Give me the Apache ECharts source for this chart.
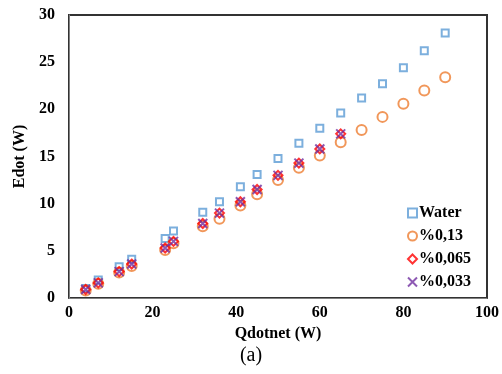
<!DOCTYPE html>
<html><head><meta charset="utf-8">
<script src="https://cdn.jsdelivr.net/npm/echarts@6/dist/echarts.min.js"></script>
<style>html,body{margin:0;padding:0;background:#fff}#c{width:502px;height:374px}</style>
</head><body><div id="c"></div>
<script>
var qdot = [4,7,12,15,23,25,32,36,41,45,50,55,60,65,70,75,80,85,90];
var water = [1.0,1.9,3.3,4.1,6.3,7.1,9.1,10.2,11.8,13.1,14.8,16.4,18.0,19.6,21.2,22.7,24.4,26.2,28.1];
var nf013 = [0.8,1.5,2.7,3.4,5.1,5.8,7.6,8.4,9.8,11.0,12.5,13.8,15.1,16.5,17.8,19.2,20.6,22.0,23.4];
var nf0065 = [0.9,1.6,2.8,3.6,5.3,6.0,7.9,9.0,10.2,11.5,13.0,14.3,15.8,17.4];
var nf0033 = [0.9,1.6,2.8,3.6,5.3,6.0,7.9,9.0,10.2,11.5,13.0,14.3,15.8,17.4];
var xTicks = [0,20,40,60,80,100];
var yTicks = [0,5,10,15,20,25,30];

function pairs(ys){ return ys.map(function(v,i){ return [qdot[i], v]; }); }
var font = '"Liberation Serif","Times New Roman",serif';
var chart = echarts.init(document.getElementById('c'));
chart.setOption({
  animation:false,
  backgroundColor:'#fff',
  grid:{left:69,right:15,top:15,bottom:76,show:true,borderColor:'#333',borderWidth:2,backgroundColor:'#fff'},
  xAxis:{type:'value',min:xTicks[0],max:xTicks[xTicks.length-1],interval:20,
    name:'Qdotnet (W)',nameLocation:'middle',nameGap:21,
    nameTextStyle:{fontFamily:font,fontWeight:'bold',fontSize:16,color:'#000'},
    axisLine:{show:true,lineStyle:{color:'#808080',width:1}},axisTick:{show:false},splitLine:{show:false},
    axisLabel:{fontFamily:font,fontWeight:'bold',fontSize:16,color:'#000',margin:7}},
  yAxis:{type:'value',min:yTicks[0],max:yTicks[yTicks.length-1],interval:5,
    name:'Edot (W)',nameLocation:'middle',nameGap:34,
    nameTextStyle:{fontFamily:font,fontWeight:'bold',fontSize:16,color:'#000'},
    axisLine:{show:true,lineStyle:{color:'#808080',width:1}},axisTick:{show:false},splitLine:{show:false},
    axisLabel:{fontFamily:font,fontWeight:'bold',fontSize:16,color:'#000',margin:14}},
  legend:{orient:'vertical',left:402,top:200,itemGap:7,itemWidth:9,itemHeight:9,
    textStyle:{fontFamily:font,fontWeight:'bold',fontSize:16,color:'#000',padding:[0,0,0,-3]},
    data:[
      {name:'Water',icon:'rect',itemStyle:{color:'transparent',borderColor:'#5B9BD5',borderWidth:2}},
      {name:'%0,13',icon:'circle',itemStyle:{color:'transparent',borderColor:'#ED7D31',borderWidth:2}},
      {name:'%0,065',icon:'diamond',itemStyle:{color:'transparent',borderColor:'#FF0000',borderWidth:2}},
      {name:'%0,033',icon:'path://M0,0L10,10M10,0L0,10',itemStyle:{color:'transparent',borderColor:'#7030A0',borderWidth:2}}
    ]},
  graphic:[{type:'text',left:'center',top:346,style:{text:'(a)',font:'20px '+font,fill:'#000'}}],
  series:[
    {name:'Water',type:'scatter',data:pairs(water),symbol:'rect',symbolSize:7,z:1,
      itemStyle:{color:'#fff',borderColor:'#5B9BD5',borderWidth:2}},
    {name:'%0,13',type:'scatter',data:pairs(nf013),symbol:'circle',symbolSize:10,z:2,
      itemStyle:{color:'transparent',borderColor:'#ED7D31',borderWidth:2}},
    {name:'%0,065',type:'scatter',data:pairs(nf0065),symbol:'diamond',symbolSize:9,z:3,
      itemStyle:{color:'transparent',borderColor:'#FF0000',borderWidth:2}},
    {name:'%0,033',type:'scatter',data:pairs(nf0033),symbol:'path://M0,0L10,10M10,0L0,10',symbolSize:9,z:4,
      itemStyle:{color:'transparent',borderColor:'#7030A0',borderWidth:2}}
  ]
});
</script></body></html>
